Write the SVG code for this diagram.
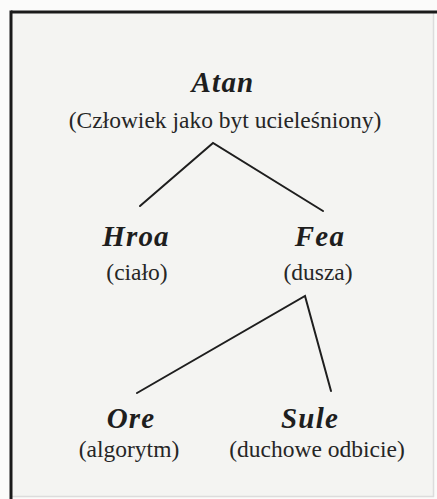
<svg xmlns="http://www.w3.org/2000/svg" width="437" height="499" viewBox="0 0 437 499">
<style>
.t{font-family:"Liberation Serif","Times New Roman",serif;font-weight:bold;font-style:italic;font-size:29px;fill:#1e1e1e;text-anchor:middle;letter-spacing:1.2px}
.s{font-family:"Liberation Serif","Times New Roman",serif;font-size:23.5px;fill:#262626;text-anchor:middle}
.c{stroke:#1e1e1e;stroke-width:2;fill:none;stroke-linecap:round}
</style>
<rect x="0" y="0" width="437" height="499" fill="#fbfbfa"/>
<rect x="11" y="12" width="423" height="485" fill="#f4f4f2"/>
<g id="frame">
<line x1="433.5" y1="12" x2="433.5" y2="497" stroke="#dcdcdc" stroke-width="1.5"/>
<line x1="11" y1="496.5" x2="434" y2="496.5" stroke="#dcdcdc" stroke-width="1.5"/>
<line x1="11" y1="12" x2="437" y2="12" stroke="#1a1a1a" stroke-width="3"/>
<line x1="11" y1="10.5" x2="11" y2="499" stroke="#1a1a1a" stroke-width="3"/>
</g>
<g id="connectors">
<polyline class="c" points="140,206 213,143 323,211"/>
<polyline class="c" points="137,393 305,296 331,391"/>
</g>
<g id="atan">
<text class="t" x="223" y="92">Atan</text>
<text class="s" x="225" y="128">(Człowiek jako byt ucieleśniony)</text>
</g>
<g id="hroa">
<text class="t" x="136" y="246">Hroa</text>
<text class="s" x="137" y="280">(ciało)</text>
</g>
<g id="fea">
<text class="t" x="320" y="246">Fea</text>
<text class="s" x="318" y="280">(dusza)</text>
</g>
<g id="ore">
<text class="t" x="131" y="428">Ore</text>
<text class="s" x="129" y="457">(algorytm)</text>
</g>
<g id="sule">
<text class="t" x="310" y="428">Sule</text>
<text class="s" x="317" y="457">(duchowe odbicie)</text>
</g>
</svg>
